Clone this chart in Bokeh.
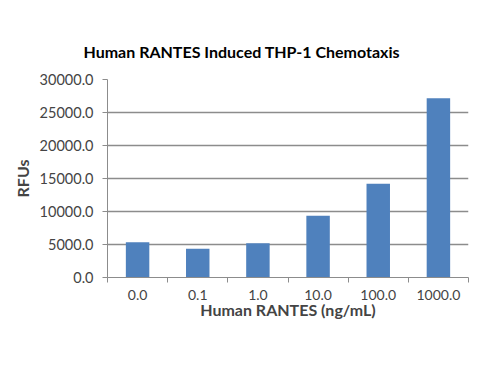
from bokeh.plotting import figure
from bokeh.models import Range1d, FixedTicker, NumeralTickFormatter, ColumnDataSource
from bokeh.embed import file_html
from bokeh.resources import INLINE

categories = ["0.0", "0.1", "1.0", "10.0", "100.0", "1000.0"]
rfus = [5350, 4350, 5200, 9350, 14200, 27150]
y_ticks = [0, 5000, 10000, 15000, 20000, 25000, 30000]

n = len(categories)
centers = [i + 0.5 for i in range(n)]
src = ColumnDataSource(dict(x=centers, top=rfus))

FONT = "Lato"
GRAY = "#8c8c8c"

p = figure(width=490, height=365, output_backend="svg", toolbar_location=None,
           x_range=Range1d(0, n), y_range=Range1d(0, 30000),
           min_border_left=107, min_border_right=22, min_border_top=79, min_border_bottom=88,
           title="Human RANTES Induced THP-1 Chemotaxis")

p.vbar(x="x", top="top", width=0.39, source=src, fill_color="#4F81BD", line_color=None)

p.title.text_font = FONT
p.title.text_font_size = "16px"
p.title.text_font_style = "bold"
p.title.text_color = "black"
p.title.align = "left"
p.title.offset = -24
p.title.standoff = 37

p.outline_line_color = None
p.background_fill_color = "white"
p.border_fill_color = "white"

xa = p.xaxis[0]
xa.ticker = FixedTicker(ticks=centers, minor_ticks=list(range(n + 1)))
xa.major_label_overrides = {c: lab for c, lab in zip(centers, categories)}
xa.major_tick_line_color = None
xa.major_tick_out = 0
xa.major_tick_in = 0
xa.minor_tick_line_color = GRAY
xa.minor_tick_out = 5
xa.minor_tick_in = 0
xa.axis_line_color = GRAY
xa.major_label_text_font = FONT
xa.major_label_text_font_size = "14px"
xa.major_label_standoff = 7
xa.axis_label = "Human RANTES (ng/mL)"
xa.axis_label_text_font = FONT
xa.axis_label_text_font_size = "16px"
xa.axis_label_text_font_style = "bold"
xa.axis_label_standoff = -3

ya = p.yaxis[0]
ya.ticker = FixedTicker(ticks=y_ticks)
ya.formatter = NumeralTickFormatter(format="0.0")
ya.minor_tick_line_color = None
ya.major_tick_line_color = GRAY
ya.major_tick_out = 5
ya.major_tick_in = 0
ya.axis_line_color = GRAY
ya.major_label_text_font = FONT
ya.major_label_text_font_size = "14.5px"
ya.major_label_standoff = 9
ya.axis_label = "RFUs"
ya.axis_label_text_font = FONT
ya.axis_label_text_font_size = "16px"
ya.axis_label_text_font_style = "bold"
ya.axis_label_standoff = 5

p.xgrid.grid_line_color = None
p.ygrid.grid_line_color = GRAY
p.ygrid.grid_line_width = 1.3

open("out.html", "w").write(file_html(p, INLINE))
